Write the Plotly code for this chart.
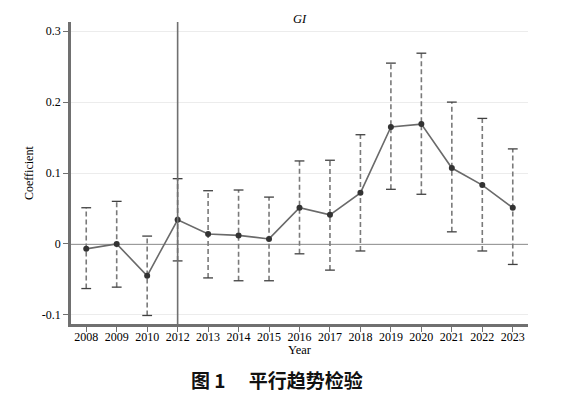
import plotly.graph_objects as go

years = ["2008", "2009", "2010", "2012", "2013", "2014", "2015", "2016",
         "2017", "2018", "2019", "2020", "2021", "2022", "2023"]
coef = [-0.007, 0.000, -0.045, 0.034, 0.014, 0.012, 0.007, 0.051,
        0.041, 0.072, 0.165, 0.169, 0.107, 0.083, 0.051]
ci_high = [0.051, 0.060, 0.011, 0.092, 0.075, 0.076, 0.066, 0.117,
           0.118, 0.154, 0.255, 0.269, 0.200, 0.177, 0.134]
ci_low = [-0.063, -0.061, -0.101, -0.024, -0.048, -0.052, -0.052, -0.014,
          -0.037, -0.010, 0.077, 0.070, 0.017, -0.010, -0.029]
y_ticks = [-0.1, 0, 0.1, 0.2, 0.3]
y_tick_text = ["-0.1", "0", "0.1", "0.2", "0.3"]
ref_year = "2012"

idx = list(range(len(years)))

# page body has an 8px margin, so the figure is drawn at (8, 8)
OFF = 8
W, H = 564 - OFF, 395 - OFF
ml, mr, mt, mb = 71 - OFF, 36, 22 - OFF, 71
plot_h = H - mt - mb
plot_w = W - ml - mr


def py(y_px):
    """page pixel y -> paper coordinate"""
    return ((H + OFF - mb) - y_px) / plot_h


fig = go.Figure()

# dashed CI lines
ex, ey = [], []
for i, lo, hi in zip(idx, ci_low, ci_high):
    ex += [i, i, None]
    ey += [lo, hi, None]
fig.add_trace(go.Scatter(x=ex, y=ey, mode="lines",
                         line=dict(color="#7a7a7a", width=1.6, dash="5px,3px"),
                         hoverinfo="skip", showlegend=False))
# caps
fig.add_trace(go.Scatter(x=idx + idx, y=ci_low + ci_high, mode="markers",
                         marker=dict(symbol="line-ew", size=7,
                                     line=dict(color="#404040", width=1.3)),
                         hoverinfo="skip", showlegend=False))
# coefficient line
fig.add_trace(go.Scatter(x=idx, y=coef, mode="lines+markers",
                         line=dict(color="#6a6a6a", width=1.6),
                         marker=dict(symbol="circle", size=6, color="#333333"),
                         showlegend=False))

ref_i = years.index(ref_year)
fig.add_shape(type="line", xref="x", yref="paper", x0=ref_i, x1=ref_i,
              y0=0, y1=1, line=dict(color="#707070", width=1.6), layer="above")
fig.add_shape(type="line", xref="paper", yref="y", x0=0, x1=1, y0=0, y1=0,
              line=dict(color="#7a7a7a", width=1.5), layer="below")

serif = "Liberation Serif, Times New Roman, serif"
fig.update_layout(
    width=W, height=H,
    margin=dict(l=ml, r=mr, t=mt, b=mb),
    paper_bgcolor="white", plot_bgcolor="white",
    font=dict(family=serif, size=11, color="black"),
    xaxis=dict(range=[-0.5, len(years) - 0.5], tickmode="array",
               tickvals=idx, ticktext=years, showgrid=False, zeroline=False,
               showline=True, linecolor="#707070", linewidth=2.5,
               ticks="outside", ticklen=5, tickcolor="#707070", tickwidth=1.3,
               ticklabelstandoff=-5,
               tickfont=dict(family=serif, size=12)),
    yaxis=dict(range=[-0.113, 0.313], tickmode="array", tickvals=y_ticks,
               ticktext=y_tick_text, showgrid=True, gridcolor="#ececec",
               gridwidth=1, zeroline=False, showline=True, linecolor="#707070",
               linewidth=2.5, ticks="outside", ticklen=5, tickcolor="#707070",
               tickwidth=1.3, tickfont=dict(family=serif, size=12)),
    annotations=[
        dict(text="<i>GI</i>", xref="paper", yref="paper", x=0.5, y=py(19),
             yanchor="middle", showarrow=False,
             font=dict(family=serif, size=12.5)),
        dict(text="Coefficient", xref="paper", yref="paper", x=0, y=0.5,
             xanchor="center", yanchor="middle", textangle=-90, xshift=-42,
             showarrow=False, font=dict(family=serif, size=12)),
        dict(text="Year", xref="paper", yref="paper", x=0.5,
             y=py(350), yanchor="middle",
             showarrow=False, font=dict(family=serif, size=12.5)),
        dict(text="<b>图 1　 平行趋势检验</b>", xref="paper", yref="paper",
             x=(277 - 71) / plot_w, y=py(379),
             yanchor="middle", xanchor="center", showarrow=False,
             font=dict(family="Noto Sans CJK SC", size=19, color="#111111")),
    ],
)

fig.write_html("out.html")
